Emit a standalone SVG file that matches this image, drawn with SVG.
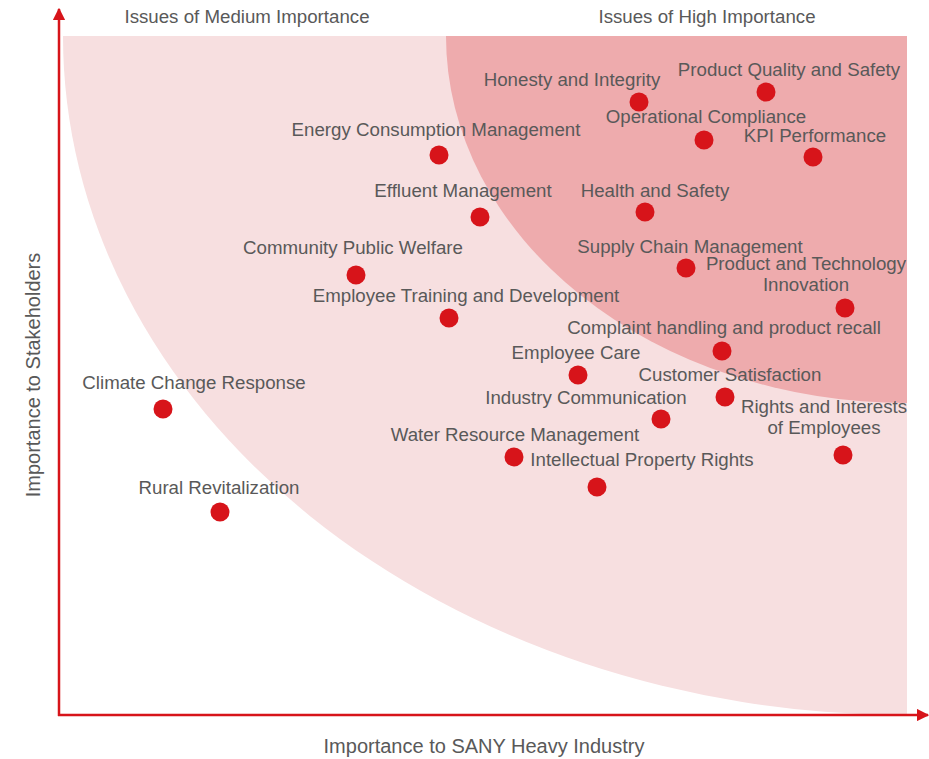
<svg xmlns="http://www.w3.org/2000/svg" width="929" height="759" viewBox="0 0 929 759">
<style>
text{font-family:"Liberation Sans",Arial,sans-serif;font-size:18.7px;fill:#595959;text-anchor:middle}
text.axl{font-size:20px}
.dot{fill:#d7141a}
.ax{stroke:#d7141a;stroke-width:2.5;fill:none}
</style>
<defs>
<marker id="ar" viewBox="0 0 10 10" refX="9" refY="5" markerWidth="5" markerHeight="5" orient="auto" markerUnits="strokeWidth"><path d="M0,0 L10,5 L0,10 Z" fill="#d7141a"/></marker>
</defs>
<rect width="929" height="759" fill="#fff"/>
<g id="zones">
<path d="M63,36 H907 V715 A844,679 0 0 1 63,36 Z" fill="#f7dfe0"/>
<path d="M446,36 H907 V403 A461,367 0 0 1 446,36 Z" fill="#eeabad"/>
</g>
<g id="connectors">
<path class="ax" d="M59,716 V9" marker-end="url(#ar)"/>
<path class="ax" d="M58,715 H928" marker-end="url(#ar)"/>
</g>
<g id="titles">
<text x="247" y="23">Issues of Medium Importance</text>
<text x="707" y="23">Issues of High Importance</text>
<text class="axl" x="484" y="753">Importance to SANY Heavy Industry</text>
<text class="axl" transform="translate(40,375) rotate(-90)">Importance to Stakeholders</text>
</g>
<g id="n1"><circle class="dot" cx="639" cy="102" r="9.5"/><text x="572" y="86">Honesty and Integrity</text></g>
<g id="n2"><circle class="dot" cx="766" cy="92" r="9.5"/><text x="789" y="76">Product Quality and Safety</text></g>
<g id="n3"><circle class="dot" cx="704" cy="140" r="9.5"/><text x="706" y="123">Operational Compliance</text></g>
<g id="n4"><circle class="dot" cx="813" cy="157" r="9.5"/><text x="815" y="142">KPI Performance</text></g>
<g id="n5"><circle class="dot" cx="439" cy="155" r="9.5"/><text x="436" y="136">Energy Consumption Management</text></g>
<g id="n6"><circle class="dot" cx="480" cy="217" r="9.5"/><text x="463" y="197">Effluent Management</text></g>
<g id="n7"><circle class="dot" cx="645" cy="212" r="9.5"/><text x="655" y="197">Health and Safety</text></g>
<g id="n8"><circle class="dot" cx="356" cy="275" r="9.5"/><text x="353" y="254">Community Public Welfare</text></g>
<g id="n9"><circle class="dot" cx="686" cy="268" r="9.5"/><text x="690" y="253">Supply Chain Management</text></g>
<g id="n10"><circle class="dot" cx="845" cy="308" r="9.5"/><text x="806" y="270">Product and Technology</text><text x="806" y="291">Innovation</text></g>
<g id="n11"><circle class="dot" cx="449" cy="318" r="9.5"/><text x="466" y="302">Employee Training and Development</text></g>
<g id="n12"><circle class="dot" cx="722" cy="351" r="9.5"/><text x="724" y="334">Complaint handling and product recall</text></g>
<g id="n13"><circle class="dot" cx="578" cy="375" r="9.5"/><text x="576" y="359">Employee Care</text></g>
<g id="n14"><circle class="dot" cx="725" cy="397" r="9.5"/><text x="730" y="381">Customer Satisfaction</text></g>
<g id="n15"><circle class="dot" cx="661" cy="419" r="9.5"/><text x="586" y="404">Industry Communication</text></g>
<g id="n16"><circle class="dot" cx="843" cy="455" r="9.5"/><text x="824" y="413">Rights and Interests</text><text x="824" y="434">of Employees</text></g>
<g id="n17"><circle class="dot" cx="163" cy="409" r="9.5"/><text x="194" y="389">Climate Change Response</text></g>
<g id="n18"><circle class="dot" cx="514" cy="457" r="9.5"/><text x="515" y="441">Water Resource Management</text></g>
<g id="n19"><circle class="dot" cx="597" cy="487" r="9.5"/><text x="642" y="466">Intellectual Property Rights</text></g>
<g id="n20"><circle class="dot" cx="220" cy="512" r="9.5"/><text x="219" y="494">Rural Revitalization</text></g>
</svg>
